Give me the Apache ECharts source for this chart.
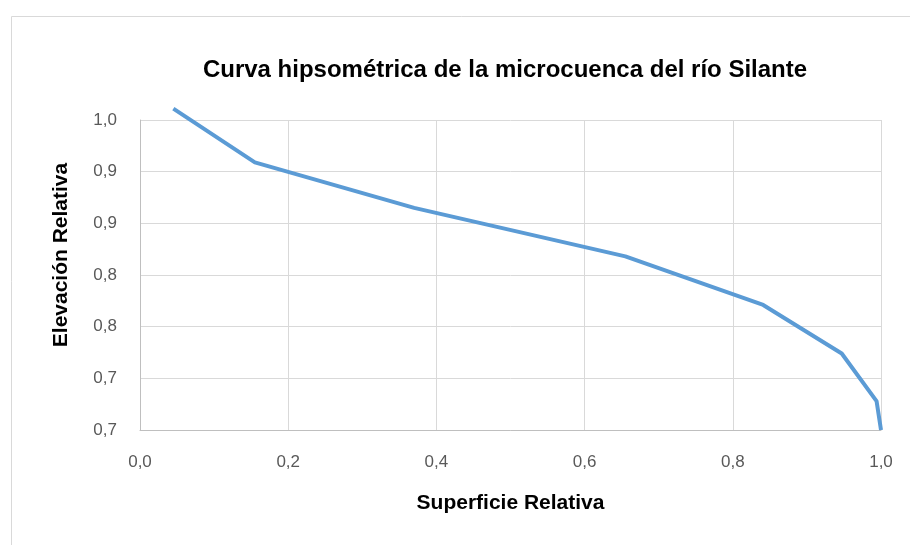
<!DOCTYPE html>
<html>
<head>
<meta charset="utf-8">
<script src="https://cdn.jsdelivr.net/npm/echarts@6/dist/echarts.min.js"></script>
<style>
  html, body { margin: 0; padding: 0; background: #fff; }
  #chart { width: 910px; height: 545px; }
</style>
</head>
<body>
<div id="chart"></div>
<script>
// Superficie relativa (x) y elevación relativa (y)
const superficie = [0.045, 0.155, 0.37, 0.655, 0.841, 0.947, 0.994, 1.0]
const elevacion = [0.961, 0.909, 0.865, 0.818, 0.771, 0.724, 0.678, 0.65]

// etiquetas del eje Y tal como aparecen (redondeadas a un decimal)
const yTickLabels = ['0,7', '0,7', '0,8', '0,8', '0,9', '0,9', '1,0']
const xTickLabels = ['0,0', '0,2', '0,4', '0,6', '0,8', '1,0']

const yMin = 0.65
const yMax = 0.95
const yStep = 0.05

const chart = echarts.init(document.getElementById('chart'))

const font = 'Liberation Sans, Arial, sans-serif'

chart.setOption({
  animation: false,
  textStyle: { fontFamily: font },
  graphic: [
    {
      type: 'rect',
      shape: { x: 11.5, y: 16.5, width: 920, height: 560 },
      style: { fill: 'none', stroke: '#d9d9d9', lineWidth: 1 },
      silent: true
    }
  ],
  title: {
    text: 'Curva hipsométrica de la microcuenca del río Silante',
    left: 500,
    textAlign: 'center',
    top: 53,
    textStyle: { fontFamily: font, fontSize: 24, fontWeight: 'bold', color: '#000' }
  },
  grid: { left: 140, right: 29, top: 120, bottom: 115 },
  xAxis: {
    type: 'value',
    min: 0,
    max: 1,
    interval: 0.2,
    name: 'Superficie Relativa',
    nameLocation: 'middle',
    nameGap: 63,
    nameTextStyle: { fontFamily: font, fontSize: 21, fontWeight: 'bold', color: '#000' },
    axisLine: { show: true, lineStyle: { color: '#bfbfbf', width: 1 } },
    axisTick: { show: false },
    axisLabel: {
      margin: 24,
      fontSize: 17,
      color: '#595959',
      formatter: v => xTickLabels[Math.round(v / 0.2)]
    },
    splitLine: { show: true, lineStyle: { color: '#d9d9d9', width: 1 } }
  },
  yAxis: {
    type: 'value',
    min: yMin,
    max: yMax,
    interval: yStep,
    name: 'Elevación Relativa',
    nameLocation: 'middle',
    nameRotate: 90,
    nameGap: 68,
    nameTextStyle: {
      fontFamily: font, fontSize: 21, fontWeight: 'bold', color: '#000',
      padding: [0, 0, 0, 40]
    },
    axisLine: { show: true, lineStyle: { color: '#bfbfbf', width: 1 } },
    axisTick: { show: false },
    axisLabel: {
      margin: 23,
      fontSize: 17,
      color: '#595959',
      formatter: v => yTickLabels[Math.round((v - yMin) / yStep)]
    },
    splitLine: { show: true, lineStyle: { color: '#d9d9d9', width: 1 } }
  },
  series: [
    {
      type: 'line',
      data: superficie.map((x, i) => [x, elevacion[i]]),
      showSymbol: false,
      clip: false,
      lineStyle: { color: '#5b9bd5', width: 4, join: 'round' }
    }
  ]
})
</script>
</body>
</html>
